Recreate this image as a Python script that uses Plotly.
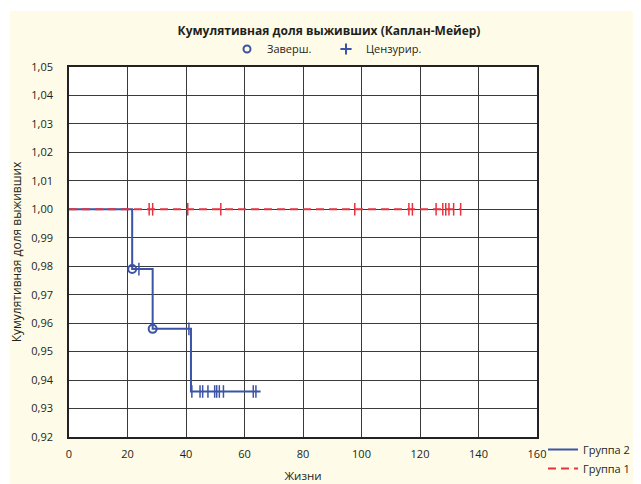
import plotly.graph_objects as go

# ---- data ----
g2_step_t = [0, 21.6, 28.6, 41.7, 65.5]
g2_step_s = [1.0, 0.979, 0.958, 0.936, 0.936]
g2_event_t = [21.6, 28.6]
g2_event_s = [0.979, 0.958]
g2_cens_t = [23.9, 41.0, 42.0, 44.8, 45.7, 47.5, 49.8, 50.5, 51.4, 52.8, 63.0, 63.9]
g2_cens_s = [0.979, 0.958, 0.936, 0.936, 0.936, 0.936, 0.936, 0.936, 0.936, 0.936, 0.936, 0.936]

g1_step_t = [0, 134.0]
g1_step_s = [1.0, 1.0]
g1_cens_t = [27.4, 28.6, 40.6, 51.9, 97.7, 116.2, 117.4, 125.5, 127.8, 128.8, 129.9, 131.5, 133.9]
g1_cens_s = [1.0] * len(g1_cens_t)

x_ticks = [0, 20, 40, 60, 80, 100, 120, 140, 160]
y_ticks = [0.92, 0.93, 0.94, 0.95, 0.96, 0.97, 0.98, 0.99, 1.00, 1.01, 1.02, 1.03, 1.04, 1.05]

BLUE = "#3B54A5"
RED = "#E6323E"
TXT = "#231F20"
CREAM = "#FEFCE8"
FONT = "Open Sans"

OFF = 8            # page body margin
W, H = 641 - OFF, 484 - OFF
PW, PH = 468, 370  # plot area size in px

fig = go.Figure()

# Group 2 (blue)
fig.add_trace(go.Scatter(x=g2_step_t, y=g2_step_s, mode="lines", line=dict(color=BLUE, width=2, shape="hv"),
                         name="Группа 2", legend="legend"))
fig.add_trace(go.Scatter(x=g2_event_t, y=g2_event_s, mode="markers",
                         marker=dict(symbol="circle-open", size=8, color=BLUE, line=dict(width=2, color=BLUE)),
                         showlegend=False))
fig.add_trace(go.Scatter(x=g2_cens_t, y=g2_cens_s, mode="markers",
                         marker=dict(symbol="line-ns", size=9, color=BLUE, line=dict(width=1.5, color=BLUE)),
                         showlegend=False))

# Group 1 (red dashed)
fig.add_trace(go.Scatter(x=g1_step_t, y=g1_step_s, mode="lines", line=dict(color=RED, width=2, dash="8px,5px", shape="hv"),
                         name="Группа 1", legend="legend"))
fig.add_trace(go.Scatter(x=g1_cens_t, y=g1_cens_s, mode="markers",
                         marker=dict(symbol="line-ns", size=9, color=RED, line=dict(width=1.5, color=RED)),
                         showlegend=False))

# top legend entries
fig.add_trace(go.Scatter(x=[None], y=[None], mode="markers", name="Заверш.",
                         marker=dict(symbol="circle-open", size=7, color=BLUE, line=dict(width=2, color=BLUE)),
                         legend="legend2"))
fig.add_trace(go.Scatter(x=[None], y=[None], mode="markers", name="Цензурир.",
                         marker=dict(symbol="cross-thin", size=8, color=BLUE, line=dict(width=2, color=BLUE)),
                         legend="legend2"))

fig.update_layout(
    width=W, height=H,
    margin=dict(l=69 - OFF, r=641 - 537, t=67 - OFF, b=484 - 437, autoexpand=False),
    paper_bgcolor=CREAM, plot_bgcolor="white",
    separators=", ",
    font=dict(family=FONT, size=11, color=TXT),
    title=dict(text="<b>Кумулятивная доля выживших (Каплан-Мейер)</b>", x=(329 - OFF) / W, xanchor="center",
               y=1 - (31 - OFF) / H, yanchor="middle", font=dict(size=12, color=TXT)),
    legend=dict(x=(543 - 69) / PW, xanchor="left", y=(437 - 435) / PH, yanchor="top", bgcolor="rgba(0,0,0,0)",
                font=dict(size=11, color=TXT), tracegroupgap=0, itemwidth=30),
    legend2=dict(orientation="h", x=(227 - 69) / PW, xanchor="left", y=1 + (67 - 49) / PH, yanchor="middle",
                 bgcolor="rgba(0,0,0,0)", font=dict(size=11, color=TXT), entrywidth=54, entrywidthmode="pixels"),
    showlegend=True,
)

fig.update_xaxes(range=[0, 160], tickvals=x_ticks, ticktext=[str(v) for v in x_ticks],
                 showgrid=True, gridcolor="#3a3a3a", gridwidth=1,
                 showline=True, linecolor="#222", linewidth=1.5, mirror=True,
                 zeroline=False, ticks="", ticklabelstandoff=6,
                 title=dict(text="Жизни", font=dict(size=11.5, color=TXT), standoff=12))
fig.update_yaxes(range=[0.92, 1.05], tickvals=y_ticks, tickformat=".2f",
                 showgrid=True, gridcolor="#3a3a3a", gridwidth=1,
                 showline=True, linecolor="#222", linewidth=1.5, mirror=True,
                 zeroline=False, ticks="", ticklabelstandoff=12,
                 title=dict(text="Кумулятивная доля выживших", font=dict(size=12, color=TXT), standoff=9))

# white strips at top and left (outside the cream panel)
fig.add_shape(type="rect", xref="paper", yref="paper", x0=-0.3, x1=(10 - 69) / PW, y0=-0.3, y1=1.3,
              fillcolor="white", line=dict(width=0), layer="above")
fig.add_shape(type="rect", xref="paper", yref="paper", x0=-0.3, x1=1.5, y0=(437 - 11) / PH, y1=1.3,
              fillcolor="white", line=dict(width=0), layer="above")

fig.write_html("out.html")
